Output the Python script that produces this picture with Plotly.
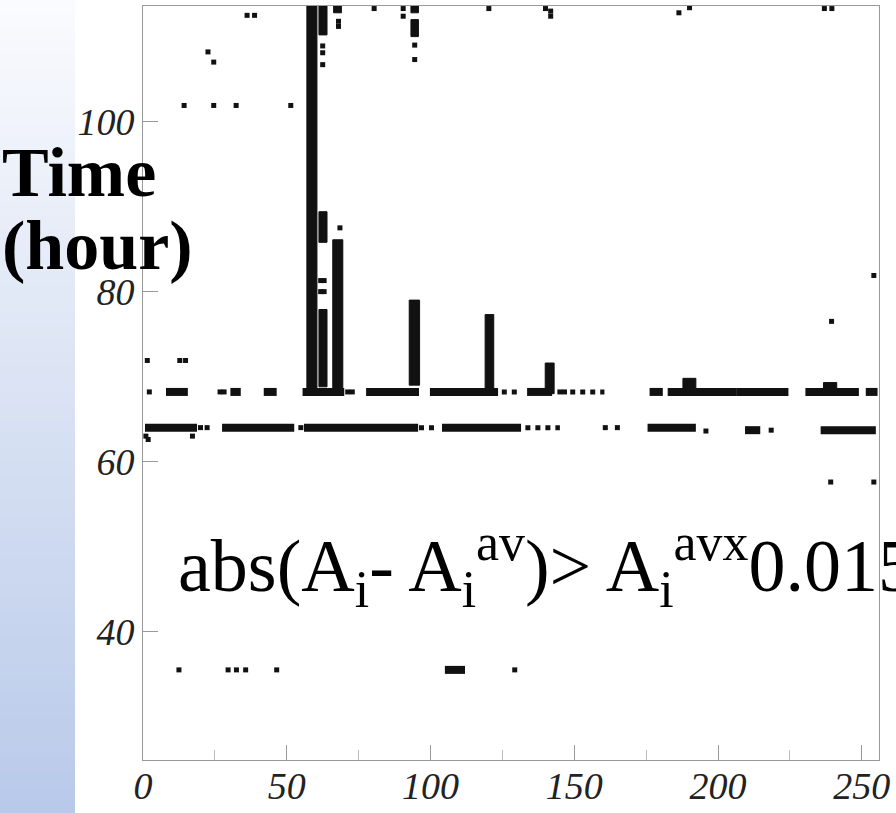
import plotly.graph_objects as go

# ---------------- data (channel index vs time in hours) ----------------
# isolated points
pt_x = [36.2, 38.8, 22.6, 24.6, 14.3, 24.6, 32.4, 51.4, 80.4, 90.5, 90.5, 120.3,
        140.0, 141.8, 141.8, 186.4, 190.1, 237.0, 239.6, 254.2, 239.5, 239.2, 254.2,
        68.0, 68.0, 68.5, 62.5, 62.5, 62.5, 61.8, 61.8, 63.0, 63.0, 94.5, 94.5,
        1.5, 12.8, 14.8,
        12.5, 29.6, 32.5, 35.7, 46.5, 129.3,
        2.2, 26.8, 28.2, 71.2, 72.8, 145.0, 146.6,
        1.0, 1.8, 17.2, 20.0, 22.3, 54.9, 160.8, 165.0, 195.8, 218.5]
pt_y = [112.5, 112.5, 108.2, 107.0, 101.9, 101.9, 101.9, 101.9, 113.3, 113.3, 112.4, 113.3,
        113.3, 113.0, 112.4, 112.8, 113.4, 113.3, 113.3, 81.9, 76.5, 57.6, 57.6,
        111.8, 111.2, 87.5, 108.9, 108.1, 106.7, 81.3, 80.0, 80.0, 81.3, 109.0, 107.3,
        71.9, 71.9, 71.9,
        35.5, 35.5, 35.5, 35.5, 35.5, 35.5,
        68.2, 68.2, 68.2, 68.2, 68.2, 68.2, 68.2,
        63.0, 62.6, 63.0, 64.0, 64.0, 64.0, 64.0, 64.0, 63.6, 63.7]

# dense horizontal runs of points (start channel, end channel, time)
run_x0 = [8.0, 30.4, 42.0, 55.5, 77.6, 99.8, 133.6, 176.2, 182.5, 206.3, 230.4, 251.4,
          0.7, 27.5, 56.0, 104.0, 175.5, 209.4, 235.7,
          105.0]
run_x1 = [15.6, 34.0, 46.5, 70.0, 96.0, 123.5, 142.3, 180.8, 206.3, 224.5, 249.0, 255.5,
          18.8, 52.6, 95.7, 131.5, 192.3, 214.7, 254.9,
          112.0]
run_y = [68.2, 68.2, 68.2, 68.2, 68.2, 68.2, 68.2, 68.2, 68.2, 68.2, 68.2, 68.2,
         64.0, 64.0, 64.0, 64.0, 64.0, 63.7, 63.7,
         35.5]

# sparse horizontal runs (chains of single detections)
srun_x0 = [124.8, 148.6, 96.0, 133.0]
srun_x1 = [130.8, 160.5, 102.5, 145.0]
srun_y = [68.2, 68.2, 64.0, 64.0]

# dense vertical blocks (channel range, time range)
col_x0 = [57.0, 61.2, 61.2, 61.2, 66.0, 66.3, 92.6, 93.2, 93.2, 119.0, 139.9, 187.8, 236.7]
col_x1 = [60.5, 64.0, 64.0, 64.0, 69.5, 69.0, 96.2, 95.8, 95.8, 122.0, 143.0, 192.3, 241.3]
col_y0 = [68.0, 110.2, 85.8, 68.8, 68.0, 112.8, 69.0, 112.8, 110.0, 68.0, 68.0, 68.0, 68.0]
col_y1 = [113.6, 113.6, 89.4, 77.9, 86.1, 113.6, 79.0, 113.6, 112.0, 77.3, 71.6, 69.8, 69.3]

x_ticks = [0, 50, 100, 150, 200, 250]
y_ticks = [40, 60, 80, 100]
x_range = [0, 256]
y_range = [24.9, 113.6]

# ---------------- figure ----------------
INK = "#111111"
fig = go.Figure()

# blocks
bx, by = [], []
for a, b, c, d in zip(col_x0, col_x1, col_y0, col_y1):
    bx += [a, b, b, a, a, None]
    by += [c, c, d, d, c, None]
fig.add_trace(go.Scatter(x=bx, y=by, mode="lines", fill="toself", fillcolor=INK,
                         line=dict(color=INK, width=1), hoverinfo="skip"))

# dense runs
rx, ry = [], []
for a, b, c in zip(run_x0, run_x1, run_y):
    rx += [a, b, None]
    ry += [c, c, None]
fig.add_trace(go.Scatter(x=rx, y=ry, mode="lines", line=dict(color=INK, width=8),
                         hoverinfo="skip"))

# sparse runs
sx, sy = [], []
for a, b, c in zip(srun_x0, srun_x1, srun_y):
    sx += [a, b, None]
    sy += [c, c, None]
fig.add_trace(go.Scatter(x=sx, y=sy, mode="lines",
                         line=dict(color=INK, width=5, dash="dot"), hoverinfo="skip"))

# isolated points
fig.add_trace(go.Scatter(x=pt_x, y=pt_y, mode="markers",
                         marker=dict(symbol="square", size=5, color=INK, line=dict(width=0))))

# blue gradient band on the left
L, R_ = 143, 879
PW = R_ - L
T_, B_ = 6, 760
PH = B_ - T_
n = 60
top = (250, 251, 254)
bot = (184, 201, 233)
shapes = []
for i in range(n):
    py0 = 813 * i / n
    py1 = 813 * (i + 1) / n + 1
    f = (i + 0.5) / n
    col = tuple(int(round(top[k] + (bot[k] - top[k]) * f)) for k in range(3))
    shapes.append(dict(type="rect", xref="paper", yref="paper",
                       x0=(0 - L) / PW, x1=(75 - L) / PW,
                       y0=(B_ - py1) / PH, y1=(B_ - py0) / PH,
                       fillcolor="rgb(%d,%d,%d)" % col, line=dict(width=0), layer="below"))

axis_common = dict(showgrid=False, zeroline=False, showline=True, linecolor="#999999",
                   linewidth=1, mirror=True, ticks="inside", ticklen=15, tickcolor="#999999",
                   automargin=False,
                   tickfont=dict(family="Liberation Serif", size=38, color="#222222",
                                 style="italic"))

fig.update_layout(
    width=896, height=813,
    margin=dict(l=L, r=896 - R_, t=T_, b=813 - B_, autoexpand=False),
    paper_bgcolor="white", plot_bgcolor="white",
    showlegend=False,
    shapes=shapes,
    xaxis=dict(range=x_range, tickvals=x_ticks, ticktext=[str(v) for v in x_ticks],
               ticklabelstandoff=-8,
               minor=dict(tickvals=[25, 75, 125, 175, 225], ticks="inside", ticklen=10,
                          tickcolor="#bbbbbb"),
               **axis_common),
    yaxis=dict(range=y_range, tickvals=y_ticks, ticktext=[str(v) for v in y_ticks],
               **axis_common),
    annotations=[
        dict(text="<b>Time</b>", xref="paper", yref="paper", x=(0 - L) / PW,
             y=(B_ - 172) / PH, xanchor="left", yanchor="middle", showarrow=False,
             font=dict(family="Liberation Serif", size=70, color="black")),
        dict(text="<b>(hour)</b>", xref="paper", yref="paper", x=(0 - L) / PW,
             y=(B_ - 245) / PH, xanchor="left", yanchor="middle", showarrow=False,
             font=dict(family="Liberation Serif", size=70, color="black")),
        dict(text="abs(A<sub>i</sub>- A<sub>i</sub><sup>av</sup>)> A<sub>i</sub><sup>av</sup><sup>x</sup>0.015",
             xref="paper", yref="paper", x=(176 - L) / PW, y=(B_ - 566) / PH,
             xanchor="left", yanchor="middle", showarrow=False,
             font=dict(family="Liberation Serif", size=74, color="black")),
    ],
)

fig.write_html("out.html",
               config={"displayModeBar": False},
               post_script="document.body.style.margin='0px';"
                           "document.documentElement.style.overflow='hidden';")
